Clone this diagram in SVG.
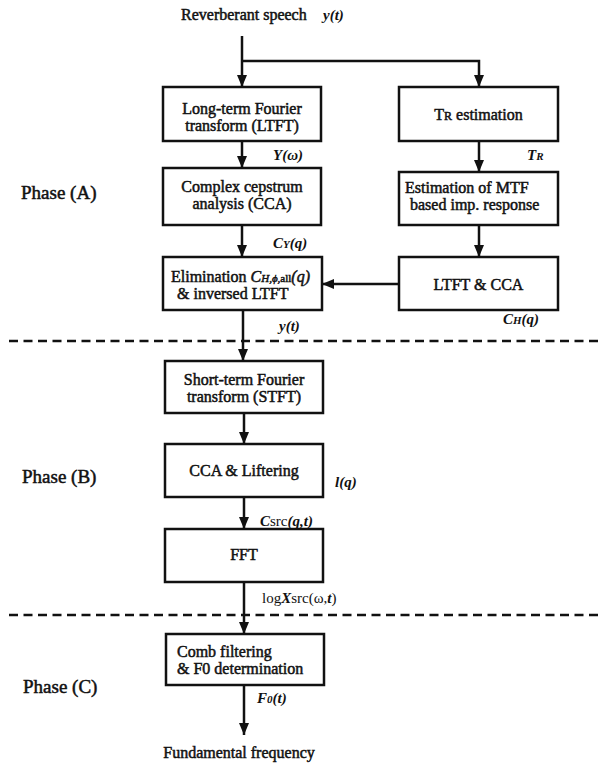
<svg xmlns="http://www.w3.org/2000/svg" width="602" height="764" viewBox="0 0 602 764">
<style>
.box{fill:none;stroke:#111;stroke-width:2.5}
.t{font-family:"Liberation Serif",serif;font-size:16px;fill:#111;stroke:#111;stroke-width:0.5}
.c{text-anchor:middle}
.lab{font-family:"Liberation Serif",serif;font-size:15px;font-style:italic;font-weight:bold;fill:#111}
.ph{font-family:"Liberation Serif",serif;font-size:19px;fill:#111;stroke:#111;stroke-width:0.5}
.conn path{fill:none;stroke:#111;stroke-width:2.5}
.dash{fill:none;stroke:#111;stroke-width:2.5;stroke-dasharray:9 5.5}
</style>
<defs>
<marker id="ah" markerUnits="userSpaceOnUse" markerWidth="12" markerHeight="10" viewBox="0 0 12 10" refX="12" refY="5" orient="auto">
<path d="M0,0 L12,5 L0,10 z" fill="#111"/>
</marker>
</defs>
<rect width="602" height="764" fill="#fff"/>

<g id="input">
<text class="t" x="181" y="20" font-size="16.5">Reverberant speech</text>
<text class="lab" x="323" y="20">y(t)</text>
</g>

<g id="ltft">
<rect class="box" x="163" y="87" width="158" height="54"/>
<text class="t c" x="242" y="114">Long-term Fourier</text>
<text class="t c" x="242" y="131">transform (LTFT)</text>
</g>
<g id="tr">
<rect class="box" x="399" y="87" width="159" height="54"/>
<text class="t c" x="478.5" y="119.5">T<tspan font-size="12">R</tspan> estimation</text>
</g>
<g id="cca">
<rect class="box" x="163" y="168" width="158" height="57"/>
<text class="t c" x="242" y="192">Complex cepstrum</text>
<text class="t c" x="242" y="209">analysis (CCA)</text>
</g>
<g id="mtf">
<rect class="box" x="399" y="172" width="159" height="53"/>
<text class="t" x="405" y="193">Estimation of MTF</text>
<text class="t" x="410" y="210">based imp. response</text>
</g>
<g id="elim">
<rect class="box" x="163" y="257" width="159" height="53"/>
<text class="t" x="171" y="282">Elimination <tspan font-style="italic">C</tspan><tspan font-style="italic" font-size="11">H,ϕ,</tspan><tspan font-size="11">all</tspan><tspan font-style="italic">(q)</tspan></text>
<text class="t" x="177" y="299">&amp; inversed LTFT</text>
</g>
<g id="ltftcca">
<rect class="box" x="399" y="257" width="159" height="53"/>
<text class="t c" x="478.5" y="289.5">LTFT &amp; CCA</text>
</g>
<g id="stft">
<rect class="box" x="165" y="361" width="158" height="52"/>
<text class="t c" x="244" y="385">Short-term Fourier</text>
<text class="t c" x="244" y="402">transform (STFT)</text>
</g>
<g id="ccalift">
<rect class="box" x="165" y="444" width="158" height="53"/>
<text class="t c" x="244" y="476">CCA &amp; Liftering</text>
</g>
<g id="fft">
<rect class="box" x="165" y="529" width="158" height="53"/>
<text class="t c" x="244" y="560" font-size="15">FFT</text>
</g>
<g id="comb">
<rect class="box" x="166" y="634" width="158" height="51"/>
<text class="t" x="177" y="657">Comb filtering</text>
<text class="t" x="177" y="674">&amp; F0 determination</text>
</g>
<g id="output">
<text class="t c" x="239" y="758" font-size="15.5">Fundamental frequency</text>
</g>

<g id="phases">
<text class="ph" x="21" y="199">Phase (A)</text>
<text class="ph" x="22" y="483">Phase (B)</text>
<text class="ph" x="23" y="693">Phase (C)</text>
</g>

<g class="conn">
<path d="M242,36 V87" marker-end="url(#ah)"/>
<path d="M242,61 H479 V87" marker-end="url(#ah)"/>
<path d="M242,141 V168" marker-end="url(#ah)"/>
<path d="M242,225 V257" marker-end="url(#ah)"/>
<path d="M479,141 V172" marker-end="url(#ah)"/>
<path d="M479,225 V257" marker-end="url(#ah)"/>
<path d="M399,284 H322" marker-end="url(#ah)"/>
<path d="M243,310 V361" marker-end="url(#ah)"/>
<path d="M244,413 V444" marker-end="url(#ah)"/>
<path d="M244,497 V529" marker-end="url(#ah)"/>
<path d="M244,582 V634" marker-end="url(#ah)"/>
<path d="M244,685 V735" marker-end="url(#ah)"/>
</g>

<g id="dividers">
<path class="dash" d="M9,341 H602"/>
<path class="dash" d="M9,615 H602"/>
</g>

<g id="labels">
<text class="lab" x="273" y="160">Y(ω)</text>
<text class="lab" x="527" y="160">T<tspan font-size="11">R</tspan></text>
<text class="lab" x="273" y="248">C<tspan font-size="11">Y</tspan>(q)</text>
<text class="lab" x="503" y="324">C<tspan font-size="11">H</tspan>(q)</text>
<text class="lab" x="279" y="331">y(t)</text>
<text class="lab" x="335" y="487">l(q)</text>
<text class="lab" x="260" y="526">C<tspan font-style="normal" font-weight="normal">src</tspan>(q,t)</text>
<text class="lab" x="262" y="603"><tspan font-style="normal" font-weight="normal">log</tspan>X<tspan font-style="normal" font-weight="normal">src</tspan><tspan font-style="normal" font-weight="normal">(ω,</tspan>t<tspan font-style="normal" font-weight="normal">)</tspan></text>
<text class="lab" x="257" y="703">F<tspan font-size="11">0</tspan>(t)</text>
</g>
</svg>
